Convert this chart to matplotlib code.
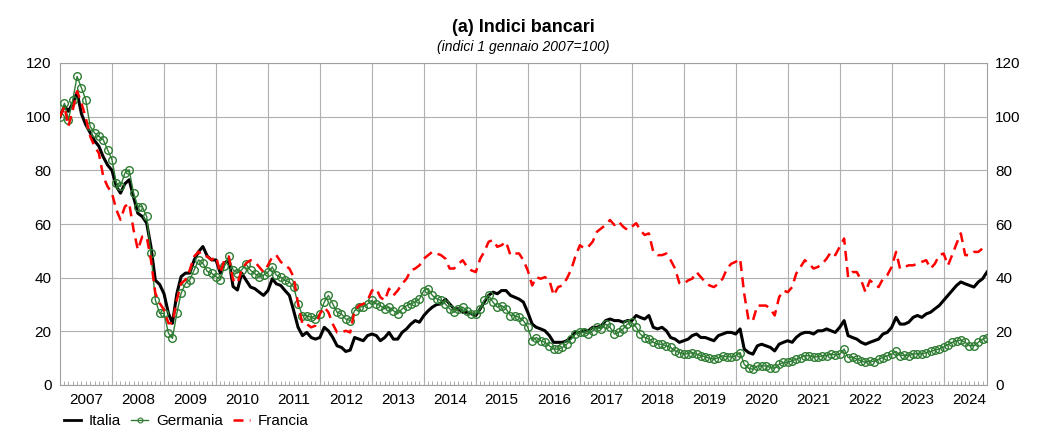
import matplotlib
matplotlib.use("Agg")
import matplotlib.pyplot as plt
import matplotlib.dates as mdates
from matplotlib.lines import Line2D
import pandas as pd

plt.rcParams['font.family'] = ['Liberation Sans', 'DejaVu Sans']

# monthly observations, Jan 2007 .. Nov 2024 (index 1 Jan 2007 = 100)
dates = pd.date_range("2007-01-01", "2024-11-01", freq="MS")

italia = [
    100, 104, 102, 105, 109, 101, 97, 94, 91, 89, 85, 82,            # 2007
    80, 74, 71.5, 75, 76.5, 70, 64, 62.8, 60.3, 51.6, 39, 37.5,       # 2008
    34, 26.7, 23, 34, 40.4, 41.7, 41.7, 46.6, 49.7, 51.6, 48, 46.6,   # 2009
    46.6, 41.7, 45.4, 46.6, 36.7, 35.4, 41.7, 39, 36.5, 35.9, 34.6, 33.4,  # 2010
    35.2, 39.6, 37.7, 37.1, 35.2, 33.4, 27.7, 21.5, 18.4, 19.6, 17.7, 17.1,  # 2011
    17.7, 21.5, 20.2, 17.7, 14.6, 14, 12.5, 13, 17.7, 17.1, 16.5, 18.4,    # 2012
    19, 18.4, 16.5, 17.7, 19.6, 17.1, 17.1, 19.6, 20.9, 22.7, 24, 23.4,    # 2013
    25.9, 27.7, 29, 30, 30.2, 32, 30.2, 28.4, 28.4, 27.1, 27.1, 26.5,      # 2014
    25.9, 28.4, 30.9, 33.4, 34.6, 34, 35.2, 35.2, 33.4, 32.7, 32, 30.9,    # 2015
    27.1, 22.7, 21.5, 20.9, 20.2, 18.4, 15.9, 15.9, 15.9, 16.5, 17.7, 19.6,  # 2016
    19.6, 20.2, 20.2, 21.5, 21.5, 22.1, 24, 24.6, 24, 24, 23.4, 24,        # 2017
    24, 25.9, 25.2, 24.6, 25.9, 21.5, 20.9, 21.5, 20.2, 17.7, 17.1, 15.9,  # 2018
    16.5, 17.1, 18.4, 19, 17.7, 17.7, 17.1, 16.5, 18.4, 19, 19.6, 19.6,    # 2019
    19, 20.9, 13.4, 12.1, 11.5, 14.6, 15.2, 14.6, 14, 12.7, 15.2, 15.9,    # 2020
    16.5, 15.9, 17.7, 19, 19.6, 19.6, 19, 20.2, 20.2, 20.9, 20.2, 19.6,    # 2021
    21.5, 24, 18.4, 17.7, 17.1, 15.9, 15.2, 15.9, 16.5, 17.1, 19, 19.6,    # 2022
    21.5, 25.2, 22.7, 22.7, 23.4, 25.2, 25.9, 25.2, 26.5, 27.1, 28.4, 29.6,  # 2023
    31.5, 33.4, 35.2, 37.1, 38.4, 37.7, 37.1, 36.5, 38.4, 39.6, 42.1,      # 2024
]

germania = [
    100, 105, 98.9, 106.3, 115, 110.7, 106.3, 96.4, 93.9, 92.7, 91.4, 87.7,  # 2007
    84, 75.2, 74, 79, 80.2, 71.5, 66.5, 66.5, 62.8, 49.1, 31.7, 26.7,        # 2008
    26.7, 19.3, 17.4, 26.7, 34.2, 37.9, 39.2, 42.9, 46.6, 45.4, 42.3, 41.7,  # 2009
    40.4, 39.2, 44.2, 47.9, 42.9, 41.7, 42.9, 45, 42.7, 41.5, 40.2, 40.9,    # 2010
    42.1, 44, 40.9, 40.2, 39, 38.4, 36.5, 30.2, 25.9, 25.9, 25.2, 24.6,      # 2011
    26.5, 30.9, 33.4, 30.2, 27.1, 26.5, 24.6, 24, 27.7, 29, 29.2, 30.2,      # 2012
    31.5, 30.2, 29.6, 28.4, 29, 27.7, 26.5, 28.4, 29.6, 30.2, 30.9, 32.1,    # 2013
    35.2, 35.9, 33.4, 32.1, 31.5, 30.2, 28.4, 27.1, 28.4, 29, 27.7, 26.5,    # 2014
    26.5, 28.4, 31.5, 33.4, 30.9, 29, 29.6, 28.4, 25.9, 25.9, 25.2, 24,      # 2015
    21.5, 16.5, 17.7, 16.5, 15.9, 14.6, 13.4, 13.4, 14, 15.2, 17.1, 19,      # 2016
    19.6, 19.6, 19, 20.2, 21.5, 20.9, 22.7, 21.5, 19, 19.6, 20.9, 22.7,      # 2017
    23.4, 21.5, 19, 17.7, 17.1, 15.9, 15.2, 15.2, 14.6, 14, 12.7, 12.1,      # 2018
    11.5, 11.7, 12.1, 11.5, 10.9, 10.5, 10, 9.6, 10.2, 10.9, 10.5, 10.5,     # 2019
    10.9, 12.1, 7.7, 6.2, 5.9, 7.1, 7.1, 7.1, 6.5, 6.2, 7.7, 8.4,            # 2020
    8.4, 9, 9.6, 10.2, 10.9, 10.9, 10.5, 10.5, 10.9, 10.9, 11.5, 11.2,       # 2021
    11.5, 13.4, 10.2, 10.5, 9.6, 9, 8.4, 9, 8.7, 9.6, 10.2, 10.9,            # 2022
    11.5, 12.5, 10.9, 11.2, 10.9, 11.5, 11.7, 11.5, 12.1, 12.5, 13, 13.4,    # 2023
    14.2, 15, 15.9, 16.5, 16.7, 15.9, 14.6, 14.6, 15.9, 17.1, 17.7,          # 2024
]

francia = [
    100, 103.9, 96.4, 102.6, 109.5, 105.1, 99.5, 92.7, 88.9, 86.4, 77.7, 74,  # 2007
    71.5, 65.3, 61.6, 66.5, 67.8, 57.8, 50.4, 55.3, 55.3, 46.6, 34.2, 30.5,   # 2008
    28, 23, 23, 31.7, 37.9, 39.2, 42.9, 47.9, 49.7, 47.9, 47.9, 46.6,         # 2009
    47.9, 41.7, 46.6, 47.9, 39.2, 37.9, 42.9, 45.4, 46.5, 45.9, 44, 42.1,     # 2010
    44.6, 47.8, 48.4, 45.9, 44.6, 43.4, 40.2, 30.2, 22.7, 22.7, 21.5, 22.1,   # 2011
    26.5, 29, 27.1, 22.7, 19.6, 19.6, 20.2, 19.6, 27.7, 29.6, 30.2, 31.5,     # 2012
    35.2, 35.9, 32.7, 31.5, 35.9, 33.4, 35.2, 37.7, 39.6, 42.7, 43.4, 44.6,   # 2013
    47.1, 48.4, 49.6, 49, 48.4, 47.1, 43.4, 43.4, 45.2, 46.5, 44, 42.7,       # 2014
    42.1, 47.1, 49.6, 53.4, 54, 51.5, 52.1, 53.4, 48.4, 49, 49, 46.5,         # 2015
    42.7, 37.1, 40.2, 39.6, 40.2, 39, 33.4, 36.5, 37.1, 39.6, 43, 48,         # 2016
    52.1, 50.9, 51.5, 53.4, 57.1, 58.4, 59.6, 61.5, 59.6, 60.9, 59, 57.8,     # 2017
    59, 60.3, 57.8, 55.9, 56.5, 49.6, 48.4, 48.4, 49, 46.5, 43.4, 38,         # 2018
    37.7, 39, 39.6, 42.1, 40.2, 38.4, 37.1, 36.5, 37.7, 39.6, 43.4, 45.2,     # 2019
    45.9, 47.1, 34, 24, 24, 29.6, 29.6, 29.6, 28.4, 25.9, 32.7, 35.2,         # 2020
    34.6, 36.5, 41.5, 44, 46.5, 45.2, 43.4, 44, 45.2, 47.1, 49.6, 48.4,       # 2021
    51.5, 54.6, 40.2, 42.1, 42.1, 39, 34.6, 39, 37.7, 36.5, 39.6, 40.9,       # 2022
    44, 49.6, 43.4, 44, 44.6, 44.6, 45.2, 45.9, 46.5, 43.4, 45.2, 48.4,       # 2023
    49, 44.6, 48.4, 52.7, 56.5, 48.4, 48.4, 49.6, 49.6, 50.9, 52.1,           # 2024
]

years = list(range(2007, 2025))
y_ticks = [0, 20, 40, 60, 80, 100, 120]

GREEN = '#2e7d32'
RED = '#ff0000'

fig = plt.figure(figsize=(10.38, 4.42), dpi=100)
ax = fig.add_axes([60 / 1038, 1 - 385 / 442, 927 / 1038, 322 / 442])

ax.plot(dates, italia, color='black', lw=2.2, zorder=3, label='Italia')
ax.plot(dates, germania, color=GREEN, lw=1.0, marker='o', ms=5.5, mfc='none',
        mec=GREEN, mew=1.0, zorder=4, label='Germania')
ax.plot(dates, francia, color=RED, lw=1.8, ls=(0, (4, 2.5)), zorder=5, label='Francia')

ax.set_xlim(pd.Timestamp("2007-01-01"), pd.Timestamp("2024-11-01"))
ax.set_ylim(0, 120)

# year gridlines
for yr in years[1:]:
    ax.axvline(pd.Timestamp(f"{yr}-01-01"), color='#b0b0b0', lw=0.8, zorder=1)
ax.set_yticks(y_ticks)
ax.yaxis.grid(True, color='#b0b0b0', lw=0.8, zorder=1)

# year labels at mid-year, monthly minor ticks
ax.set_xticks([pd.Timestamp(f"{yr}-07-02") for yr in years])
ax.set_xticklabels([str(yr) for yr in years])
ax.xaxis.set_minor_locator(mdates.MonthLocator())
ax.tick_params(axis='x', which='major', length=0, pad=6, labelsize=11)
ax.tick_params(axis='x', which='minor', direction='in', length=3, width=0.6,
               color='#a0a0a0', top=False)
ax.tick_params(axis='y', which='both', length=0, pad=6, labelsize=11,
               labelleft=True, labelright=True)

for s in ax.spines.values():
    s.set_color('#a0a0a0')
    s.set_linewidth(0.8)
ax.set_axisbelow(True)

fig.text(523.5 / 1038, 1 - 28 / 442, '(a) Indici bancari', ha='center', va='center',
         fontsize=13, fontweight='bold')
fig.text(523.5 / 1038, 1 - 47 / 442, '(indici 1 gennaio 2007=100)', ha='center',
         va='center', fontsize=10, style='italic')

handles = [
    Line2D([], [], color='black', lw=2.0),
    Line2D([], [], color=GREEN, lw=1.0, marker='o', ms=3.5, mfc='none', mec=GREEN, mew=0.8),
    Line2D([], [], color=RED, lw=1.8, ls=(0, (4, 2.5))),
]
fig.legend(handles, ['Italia', 'Germania', 'Francia'], loc='center left',
           bbox_to_anchor=(64 / 1038, 1 - 421 / 442), ncol=3, frameon=False,
           borderaxespad=0, borderpad=0,
           fontsize=11, handlelength=1.1, handletextpad=0.5, columnspacing=0.7)

fig.savefig('out.png', dpi=100)
